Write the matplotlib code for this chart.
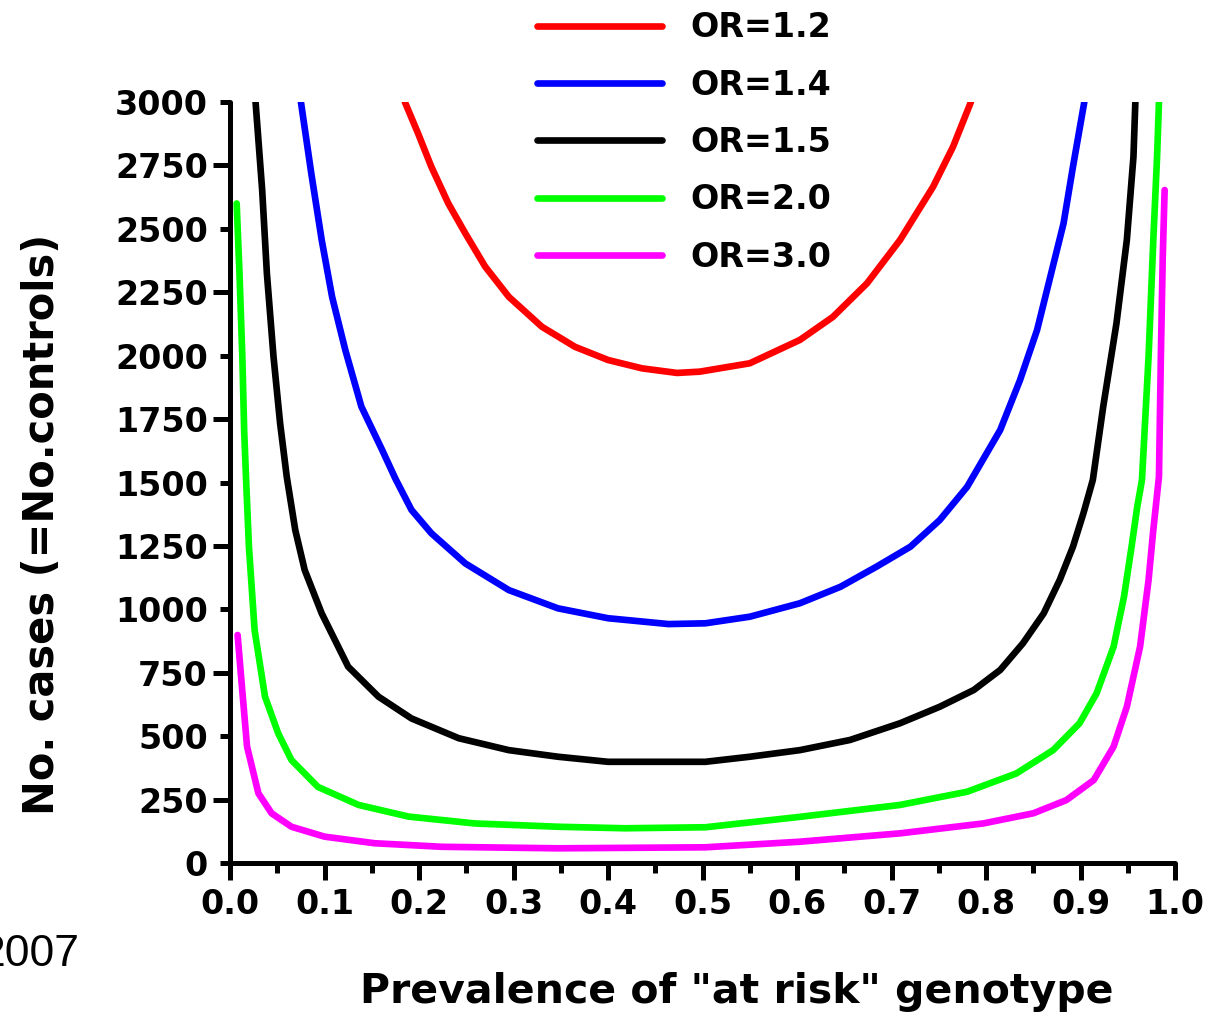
import matplotlib
matplotlib.use("Agg")
import matplotlib.pyplot as plt
from matplotlib.ticker import MultipleLocator, FormatStrFormatter

# readings (prevalence, number of cases)
or12_x = [0.185, 0.199, 0.213, 0.231, 0.249, 0.270, 0.295, 0.330, 0.365, 0.400, 0.436,
          0.473, 0.497, 0.550, 0.603, 0.638, 0.674, 0.709, 0.744, 0.765, 0.784]
or12_y = [3000, 2876, 2745, 2600, 2482, 2351, 2232, 2114, 2035, 1983, 1950,
          1932, 1937, 1970, 2062, 2153, 2285, 2456, 2666, 2823, 3000]

or14_x = [0.075, 0.086, 0.097, 0.108, 0.122, 0.139, 0.161, 0.175, 0.192, 0.213, 0.249,
          0.295, 0.347, 0.400, 0.464, 0.503, 0.550, 0.603, 0.646, 0.684, 0.720, 0.751,
          0.780, 0.815, 0.836, 0.854, 0.868, 0.882, 0.892, 0.904]
or14_y = [3000, 2718, 2456, 2232, 2022, 1799, 1628, 1515, 1392, 1300, 1181,
          1076, 1004, 965, 942, 945, 971, 1024, 1089, 1168, 1247, 1352,
          1483, 1707, 1904, 2101, 2311, 2521, 2745, 3000]

or15_x = [0.027, 0.034, 0.039, 0.046, 0.053, 0.060, 0.069, 0.079, 0.097, 0.125, 0.157,
          0.192, 0.242, 0.295, 0.347, 0.400, 0.503, 0.550, 0.603, 0.656, 0.709, 0.751,
          0.787, 0.815, 0.839, 0.861, 0.878, 0.892, 0.903, 0.913, 0.924, 0.938, 0.949,
          0.956, 0.958]
or15_y = [3000, 2653, 2324, 1996, 1733, 1523, 1313, 1155, 984, 774, 656,
          570, 492, 445, 419, 399, 399, 419, 445, 485, 551, 616,
          682, 761, 866, 984, 1116, 1247, 1378, 1510, 1799, 2127, 2456,
          2784, 3000]

or20_x = [0.007, 0.010, 0.013, 0.015, 0.017, 0.020, 0.026, 0.037, 0.051, 0.065, 0.093,
          0.136, 0.189, 0.259, 0.347, 0.418, 0.503, 0.603, 0.709, 0.780, 0.832, 0.871,
          0.899, 0.917, 0.935, 0.946, 0.954, 0.960, 0.965, 0.972, 0.977, 0.981, 0.983]
or20_y = [2600, 2324, 1996, 1700, 1510, 1247, 918, 656, 511, 406, 300,
          229, 183, 156, 143, 137, 141, 182, 229, 281, 353, 445,
          551, 669, 853, 1050, 1247, 1404, 1510, 1996, 2456, 2784, 3000]

or30_x = [0.008, 0.012, 0.018, 0.030, 0.044, 0.065, 0.100, 0.153, 0.224, 0.347, 0.503,
          0.603, 0.709, 0.797, 0.850, 0.885, 0.914, 0.935, 0.949, 0.963, 0.972, 0.977,
          0.983, 0.985, 0.987, 0.989]
or30_y = [899, 721, 459, 275, 196, 143, 104, 78, 64, 58, 62,
          84, 117, 156, 196, 248, 327, 459, 616, 853, 1116, 1313,
          1523, 1996, 2390, 2653]

labels = ["OR=1.2", "OR=1.4", "OR=1.5", "OR=2.0", "OR=3.0"]
colors = ["#ff0000", "#0000ff", "#000000", "#00ff00", "#ff00ff"]
series = [(or12_x, or12_y), (or14_x, or14_y), (or15_x, or15_y),
          (or20_x, or20_y), (or30_x, or30_y)]

fig = plt.figure(figsize=(12.12, 10.17), dpi=100)
ax = fig.add_axes([0.1898, 0.1514, 0.7797, 0.7483])

for (xs, ys), lab, col in zip(series, labels, colors):
    ax.plot(xs, ys, color=col, linewidth=4.8, label=lab, solid_capstyle='round')

ax.set_xlim(0, 1.0)
ax.set_ylim(0, 3000)

# axis look
for side in ['top', 'right']:
    ax.spines[side].set_visible(False)
for side in ['left', 'bottom']:
    ax.spines[side].set_linewidth(3.6)
    ax.spines[side].set_capstyle('round')

ax.xaxis.set_major_locator(MultipleLocator(0.1))
ax.xaxis.set_minor_locator(MultipleLocator(0.05))
ax.xaxis.set_major_formatter(FormatStrFormatter('%.1f'))
ax.yaxis.set_major_locator(MultipleLocator(250))
ax.tick_params(axis='both', which='major', direction='out', width=3.6, length=12,
               labelsize=24, pad=6)
ax.tick_params(axis='x', which='minor', direction='out', width=3.6, length=7)
ax.tick_params(axis='y', which='major', pad=4)
for lbl in ax.get_xticklabels() + ax.get_yticklabels():
    lbl.set_fontweight('bold')

# every other y tick is shorter
for i, t in enumerate(ax.yaxis.get_major_ticks()):
    if i % 2 == 1:
        t.tick1line.set_markersize(7)

# axis titles placed in figure coords to match the original layout
fig.text(0.035, 0.484, 'No. cases (=No.controls)', fontsize=30, fontweight='bold',
         rotation=90, ha='center', va='center')
fig.text(0.608, 0.025, 'Prevalence of "at risk" genotype', fontsize=29.5,
         fontweight='bold', ha='center', va='center')

fig.legend(loc='upper left', bbox_to_anchor=(0.443, 0.989), frameon=False,
           prop={'weight': 'bold', 'size': 24}, handlelength=3.75,
           handletextpad=0.85, labelspacing=0.73, borderpad=0, borderaxespad=0)

fig.text(0.066, 0.061, '2007', fontsize=32, family='Liberation Sans',
         ha='right', va='center')

fig.savefig('out.png', dpi=100)
